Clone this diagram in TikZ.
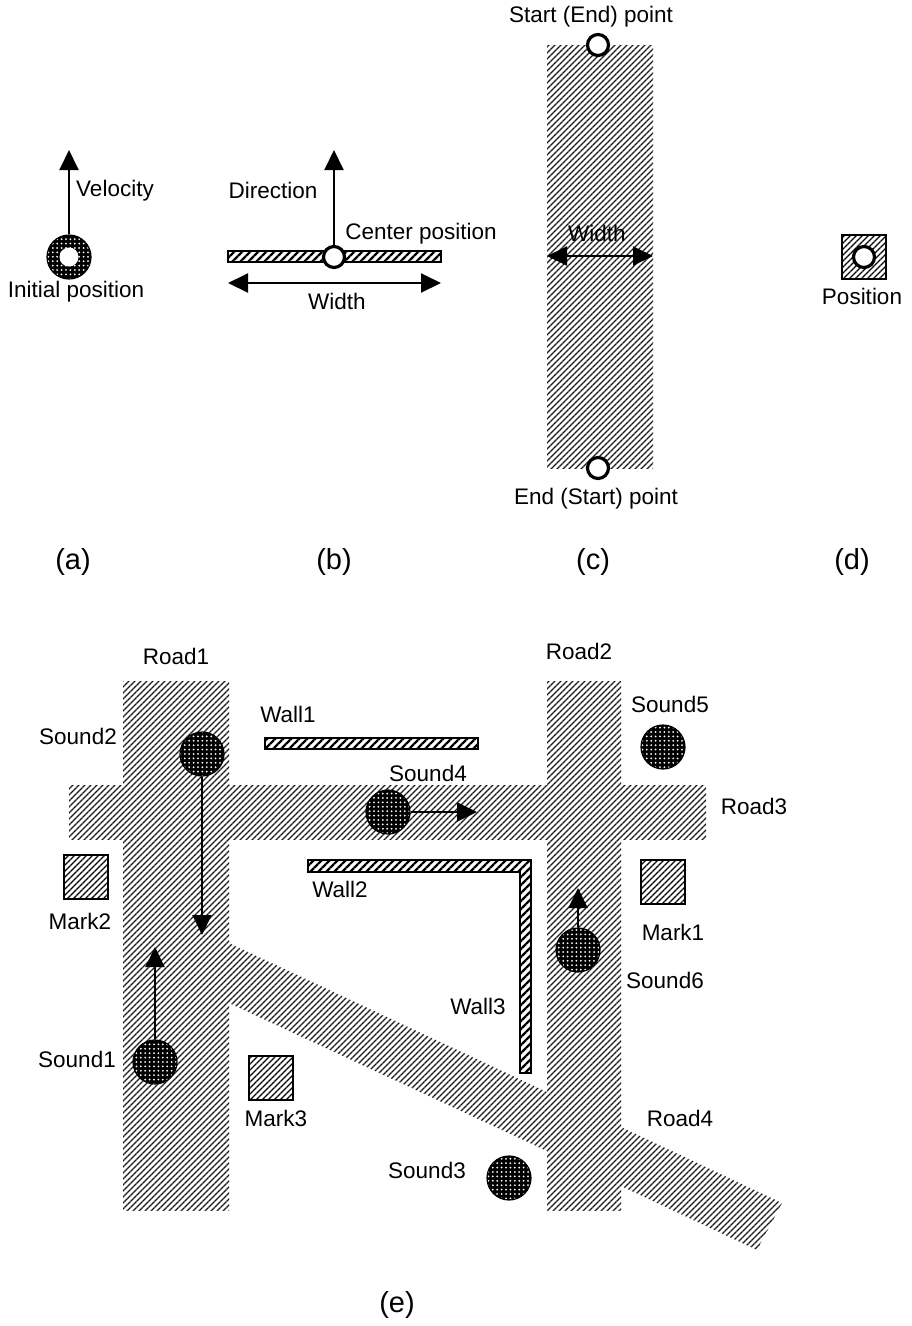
\documentclass[tikz,border=0pt]{standalone}
\usepackage{fontspec}
\setmainfont{Liberation Sans}
\usetikzlibrary{arrows.meta,patterns.meta}
\tikzset{
  nametext/.style={inner sep=0pt,font=\fontsize{22.5}{24}\selectfont},
  captext/.style={inner sep=0pt,font=\fontsize{29}{32}\selectfont},
  roadfill/.style={pattern={Lines[angle=45,distance=4.2426pt,line width=1.4pt]},pattern color=black!90},
  wallfill/.style={draw,line width=1.8pt,pattern={Lines[angle=45,distance=5.6569pt,line width=2.4pt]},pattern color=black},
  markbox/.style={draw,line width=1.6pt,pattern={Lines[angle=45,distance=4.2426pt,line width=1.2pt]},pattern color=black},
  soundball/.style={circle,minimum size=44pt,inner sep=0pt,draw,line width=1.2pt,preaction={fill=black},
    pattern={Dots[distance=4.4pt,radius=1pt]},pattern color=white},
  ringpoint/.style={circle,draw,fill=white,line width=3.2pt,minimum size=21pt,inner sep=0pt},
  oneway/.style={line width=2pt,-{Triangle[length=20pt,width=19pt]}},
  twoway/.style={line width=2pt,{Triangle[length=20pt,width=19pt]}-{Triangle[length=20pt,width=19pt]}}
}
\begin{document}
\begin{tikzpicture}[x=1pt,y=-1pt]
  \useasboundingbox (0,0) rectangle (911,1326);
  % (a)
  \node[soundball] (initial) at (69,257) {};
  \node[circle,fill=white,minimum size=19pt,inner sep=0pt] (initialhole) at (69,257) {};
  \coordinate (velocitytip) at (69,150);
  \draw[oneway] (initial) -- (velocitytip);
  \node[nametext] (velocity) at (115,191) {Velocity};
  \node[nametext] (initiallabel) at (76,292) {Initial position};
  \node[captext] (capa) at (73,562) {(a)};
  % (b)
  \path[wallfill] (228,251) rectangle (441,262);
  \node[ringpoint] (center) at (334,257) {};
  \coordinate (directiontip) at (334,150);
  \draw[oneway] (center) -- (directiontip);
  \coordinate (widthleft) at (228,283);
  \coordinate (widthright) at (441,283);
  \draw[twoway] (widthleft) -- (widthright);
  \node[nametext] (direction) at (273,190) {Direction};
  \node[nametext] (centerlabel) at (421,234) {Center position};
  \node[nametext] (widthb) at (337,301) {Width};
  \node[captext] (capb) at (334,562) {(b)};
  % (c)
  \path[roadfill] (547,45) rectangle (653,468);
  \node[ringpoint] (startpt) at (598,45) {};
  \node[ringpoint] (endpt) at (598,468) {};
  \coordinate (roadleft) at (547,256);
  \coordinate (roadright) at (653,256);
  \draw[twoway] (roadleft) -- (roadright);
  \node[nametext] (widthc) at (597,233) {Width};
  \node[nametext] (startlabel) at (591,17) {Start (End) point};
  \node[nametext] (endlabel) at (596,499) {End (Start) point};
  \node[captext] (capc) at (593,562) {(c)};
  % (d)
  \path[markbox] (842,235) rectangle (886,279);
  \node[ringpoint] (markpt) at (864,257) {};
  \node[nametext] (position) at (862,296) {Position};
  \node[captext] (capd) at (852,562) {(d)};
  % (e) roads
  \path[roadfill] (123,681) rectangle (229,1210);
  \path[roadfill] (547,681) rectangle (621,1210);
  \path[roadfill] (229,785) rectangle (547,839);
  \path[roadfill] (69,785) rectangle (123,839);
  \path[roadfill] (621,785) rectangle (706,839);
  \path[roadfill] (229,943) -- (547,1092) -- (547,1151) -- (229,1003) -- cycle;
  \path[roadfill] (621,1127) -- (782,1203) -- (757,1250) -- (621,1186) -- cycle;
  % walls
  \path[wallfill] (265,738) rectangle (478,749);
  \path[wallfill] (308,860) -- (531,860) -- (531,1073) -- (520,1073) -- (520,872) -- (308,872) -- cycle;
  % marks
  \path[markbox] (641,860) rectangle (685,904);
  \path[markbox] (64,855) rectangle (108,899);
  \path[markbox] (249,1056) rectangle (293,1100);
  % sounds
  \node[soundball] (sound1) at (155,1062) {};
  \node[soundball] (sound2) at (202,754) {};
  \node[soundball] (sound3) at (509,1178) {};
  \node[soundball] (sound4) at (388,812) {};
  \node[soundball] (sound5) at (663,747) {};
  \node[soundball] (sound6) at (578,950) {};
  \coordinate (tip1) at (155,947);
  \coordinate (tip2) at (202,935);
  \coordinate (tip4) at (477,812);
  \coordinate (tip6) at (578,888);
  \draw[oneway] (sound1) -- (tip1);
  \draw[oneway] (sound2) -- (tip2);
  \draw[oneway] (sound4) -- (tip4);
  \draw[oneway] (sound6) -- (tip6);
  % labels
  \node[nametext] (road1) at (176,656) {Road1};
  \node[nametext] (road2) at (579,651) {Road2};
  \node[nametext] (road3) at (754,806) {Road3};
  \node[nametext] (road4) at (680,1118) {Road4};
  \node[nametext] (wall1) at (288,714) {Wall1};
  \node[nametext] (wall2) at (340,889) {Wall2};
  \node[nametext] (wall3) at (478,1006) {Wall3};
  \node[nametext] (mark1) at (673,932) {Mark1};
  \node[nametext] (mark2) at (80,921) {Mark2};
  \node[nametext] (mark3) at (276,1118) {Mark3};
  \node[nametext] (soundname1) at (77,1059) {Sound1};
  \node[nametext] (soundname2) at (78,736) {Sound2};
  \node[nametext] (soundname3) at (427,1170) {Sound3};
  \node[nametext] (soundname4) at (428,773) {Sound4};
  \node[nametext] (soundname5) at (670,704) {Sound5};
  \node[nametext] (soundname6) at (665,980) {Sound6};
  \node[captext] (cape) at (397,1305) {(e)};
\end{tikzpicture}
\end{document}
